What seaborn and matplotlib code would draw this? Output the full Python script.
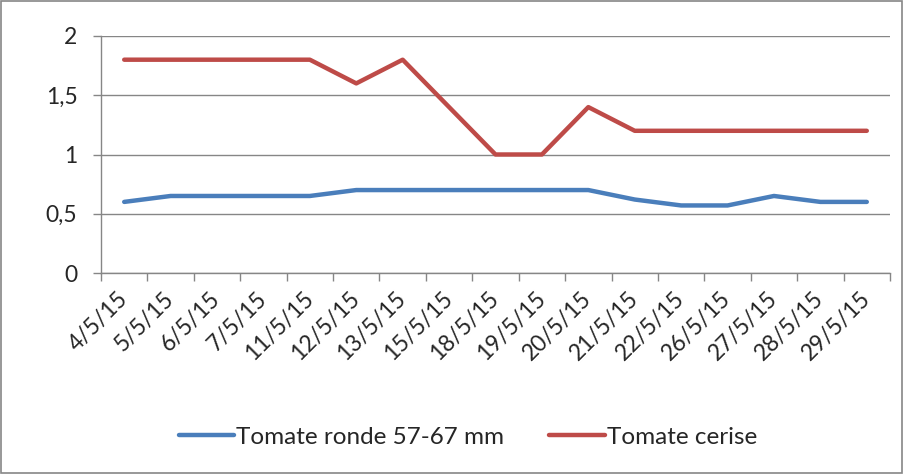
import pandas as pd
import matplotlib.pyplot as plt
import seaborn as sns
from matplotlib.patches import Rectangle
from matplotlib.ticker import FuncFormatter

# Data
dates = ['4/5/15', '5/5/15', '6/5/15', '7/5/15', '11/5/15', '12/5/15', '13/5/15', '15/5/15',
         '18/5/15', '19/5/15', '20/5/15', '21/5/15', '22/5/15', '26/5/15', '27/5/15', '28/5/15', '29/5/15']
ronde = [0.6, 0.65, 0.65, 0.65, 0.65, 0.7, 0.7, 0.7, 0.7, 0.7, 0.7, 0.62, 0.57, 0.57, 0.65, 0.6, 0.6]
cerise = [1.8, 1.8, 1.8, 1.8, 1.8, 1.6, 1.8, 1.4, 1.0, 1.0, 1.4, 1.2, 1.2, 1.2, 1.2, 1.2, 1.2]
series_names = ['Tomate ronde 57-67 mm', 'Tomate cerise']
colors = ['#4A7EBB', '#BE4B48']

df = pd.DataFrame({
    'idx': list(range(len(dates))) * 2,
    'prix': ronde + cerise,
    'serie': [series_names[0]] * len(dates) + [series_names[1]] * len(dates),
})

sns.set_style('white')
plt.rcParams['font.family'] = ['Lato', 'DejaVu Sans']

fig = plt.figure(figsize=(9.04, 4.74), dpi=100)
ax = fig.add_axes([101 / 904, 1 - 273 / 474, (890 - 101) / 904, (273 - 36) / 474])

sns.lineplot(data=df, x='idx', y='prix', hue='serie', palette=colors, linewidth=3.2,
             ax=ax, legend=True)

ax.set_xlim(-0.5, len(dates) - 0.5)
ax.set_ylim(0, 2)
ax.set_yticks([0, 0.5, 1, 1.5, 2])
ax.yaxis.set_major_formatter(FuncFormatter(lambda v, p: ('%g' % v).replace('.', ',')))
ax.grid(axis='y', color='#868686', linewidth=1)
ax.set_axisbelow(True)

# category labels at centres, tick marks at boundaries
ax.set_xticks(range(len(dates)))
ax.set_xticklabels(dates, rotation=45, ha='right', va='center', rotation_mode='anchor', fontsize=16.5)
ax.set_xticks([i - 0.5 for i in range(len(dates) + 1)], minor=True)
ax.tick_params(axis='x', which='major', length=0, pad=16)
ax.tick_params(axis='x', which='minor', length=5.5, color='#868686', width=1, direction='out')
ax.tick_params(axis='y', length=6, color='#868686', width=1, direction='out', labelsize=16.5, pad=11)
ax.xaxis.set_ticks_position('bottom')
ax.yaxis.set_ticks_position('left')

for side in ['top', 'right']:
    ax.spines[side].set_visible(False)
for side in ['left', 'bottom']:
    ax.spines[side].set_color('#868686')
    ax.spines[side].set_linewidth(1)

ax.set_xlabel('')
ax.set_ylabel('')

leg = ax.legend(loc='center', bbox_to_anchor=(468 / 904, 37 / 474), bbox_transform=fig.transFigure,
                ncol=2, frameon=False, fontsize=17.5, handlelength=2.3, handletextpad=0.08,
                columnspacing=1.85)

fig.patches.append(Rectangle((0.001, 0.002), 0.997, 0.996, transform=fig.transFigure,
                             fill=False, edgecolor='#868686', linewidth=1.2))

fig.savefig('out.png', dpi=100)
